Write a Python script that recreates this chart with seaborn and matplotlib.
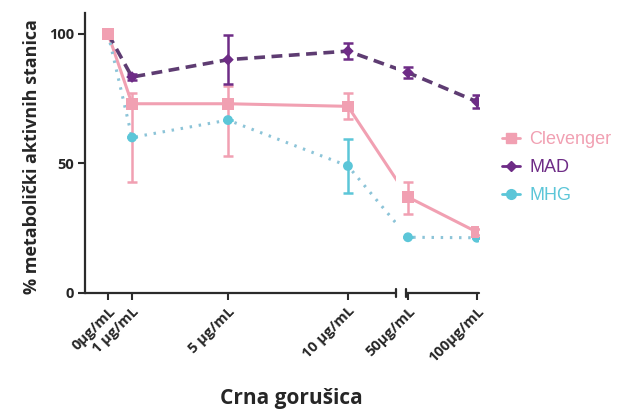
import numpy as np
import pandas as pd
import matplotlib
matplotlib.use("Agg")
import matplotlib.pyplot as plt
from matplotlib.lines import Line2D
import seaborn as sns

# ---------------- data ----------------
conc = [0, 1, 5, 10, 50, 100]
tick_labels = ["0µg/mL", "1 µg/mL", "5 µg/mL", "10 µg/mL", "50µg/mL", "100µg/mL"]
series_names = ["Clevenger", "MAD", "MHG"]

clevenger = [100, 73, 73, 72, 37, 23.5]
clevenger_lo = [1, 30, 20, 5, 6.5, 1]
clevenger_hi = [1, 4, 7, 5, 6, 1]

mad = [100, 83.3, 90, 93.3, 85, 73.8]
mad_err = [1, 1, 9.5, 3, 2, 2.6]

mhg = [100, 60, 66.7, 49, 21.5, 21.3]
mhg_err = [0, 0, 0, 10.5, 0, 0]

colors = {"Clevenger": "#F1A0B2", "MAD": "#6E2C86", "MHG": "#5CC6D8"}
line_colors = {"Clevenger": "#F1A0B2", "MAD": "#5E3C72", "MHG": "#8CC4D8"}
markers = {"Clevenger": "s", "MAD": "D", "MHG": "o"}
marker_sizes = {"Clevenger": 70, "MAD": 35, "MHG": 50}

# ------------- long table -------------
df = pd.DataFrame({
    "conc": conc * 3,
    "value": clevenger + mad + mhg,
    "series": sum([[s] * len(conc) for s in series_names], []),
})

# ------------- broken x scale -------------
B1, B2 = 12.0, 48.5
K1, K2, G = 24.0, 1.38, 10.0


def fwd(x):
    x = np.asarray(x, float)
    left = K1 * x
    mid = K1 * B1 + (x - B1) * G / (B2 - B1)
    right = K1 * B1 + G + (x - B2) * K2
    return np.where(x <= B1, left, np.where(x < B2, mid, right))


def inv(y):
    y = np.asarray(y, float)
    Y1 = K1 * B1
    Y2 = Y1 + G
    return np.where(y <= Y1, y / K1,
                    np.where(y < Y2, B1 + (y - Y1) * (B2 - B1) / G, B2 + (y - Y2) / K2))


sns.set_style("white")
plt.rcParams["font.family"] = ["Open Sans", "DejaVu Sans"]

fig = plt.figure(figsize=(6.24, 4.19), dpi=100)
ax = fig.add_axes([85 / 624, 1 - 293 / 419, 394 / 624, 280 / 419])
ax.set_xscale("function", functions=(fwd, inv))

# lines
sns.lineplot(data=df, x="conc", y="value", hue="series", style="series",
             palette=line_colors,
             dashes={"Clevenger": "", "MAD": (3, 1.8), "MHG": (0.8, 2.2)},
             estimator=None, sort=False, legend=False, ax=ax, zorder=2)
for ln, s in zip(ax.lines, series_names):
    ln.set_linewidth({"Clevenger": 2.2, "MAD": 2.6, "MHG": 2.2}[s])

# gap in the broken axis hides the lines
ax.axvspan(B1, B2, color="white", zorder=2.3, lw=0)

# error bars
ax.errorbar(conc, mhg, yerr=[mhg_err, mhg_err], fmt="none",
            ecolor=colors["MHG"], elinewidth=1.8, capsize=3.5, capthick=1.8, zorder=3)
ax.errorbar(conc, clevenger, yerr=[clevenger_lo, clevenger_hi], fmt="none",
            ecolor=colors["Clevenger"], elinewidth=1.8, capsize=3.5, capthick=1.8, zorder=3.1)
ax.errorbar(conc, mad, yerr=[mad_err, mad_err], fmt="none",
            ecolor=colors["MAD"], elinewidth=1.8, capsize=3.5, capthick=1.8, zorder=3.2)

# markers
sns.scatterplot(data=df[::-1], x="conc", y="value", hue="series", style="series",
                size="series", sizes=marker_sizes,
                palette=colors, markers=markers, linewidth=0,
                legend=False, ax=ax, zorder=4)

ax.set_xlim(-0.96, 101.5)
ax.set_ylim(0, 108)
ax.set_yticks([0, 50, 100])
ax.set_xticks(conc)
ax.set_xticklabels(tick_labels, rotation=45, ha="right", rotation_mode="anchor",
                   fontsize=10.5, fontweight="bold")
for t in ax.get_yticklabels():
    t.set_fontweight("bold")
    t.set_fontsize(10.5)
ax.minorticks_off()

spine_c = "#2b2b2b"
ax.spines["top"].set_visible(False)
ax.spines["right"].set_visible(False)
ax.spines["bottom"].set_visible(False)
ax.spines["left"].set_linewidth(1.6)
ax.spines["left"].set_color(spine_c)
ax.tick_params(axis="both", direction="out", length=5, width=1.5, color=spine_c, pad=3)
ax.tick_params(axis="x", bottom=True)
ax.tick_params(axis="y", left=True)

# broken bottom axis
xt = ax.get_xaxis_transform()
xmin, xmax = ax.get_xlim()
ax.plot([xmin, B1], [0, 0], transform=xt, clip_on=False, color=spine_c, lw=1.6, zorder=5)
ax.plot([B2, xmax], [0, 0], transform=xt, clip_on=False, color=spine_c, lw=1.6, zorder=5)
ax.plot([B1, B1], [-0.013, 0.013], transform=xt, clip_on=False, color=spine_c, lw=1.6, zorder=5)
ax.plot([B2, B2], [-0.013, 0.013], transform=xt, clip_on=False, color=spine_c, lw=1.6, zorder=5)

ax.set_xlabel("Crna gorušica", fontsize=15, fontweight="bold")
ax.xaxis.set_label_coords(0.523, -0.34)
ax.set_ylabel("% metabolički aktivnih stanica", fontsize=13, fontweight="bold")
ax.yaxis.set_label_coords(-0.112, 0.486)

# legend
handles = [Line2D([], [], color=colors[s], marker=markers[s], markersize=7 if s != "MAD" else 5,
                  lw=2, linestyle="-") for s in series_names]
leg = fig.legend(handles, series_names, loc="center left", bbox_to_anchor=(0.779, 0.60),
                 frameon=False, handlelength=1.0, handletextpad=0.5, labelspacing=0.6,
                 prop={"family": "Liberation Sans", "size": 13})
for txt, s in zip(leg.get_texts(), series_names):
    txt.set_color(colors[s])

fig.savefig("out.png", dpi=100)
